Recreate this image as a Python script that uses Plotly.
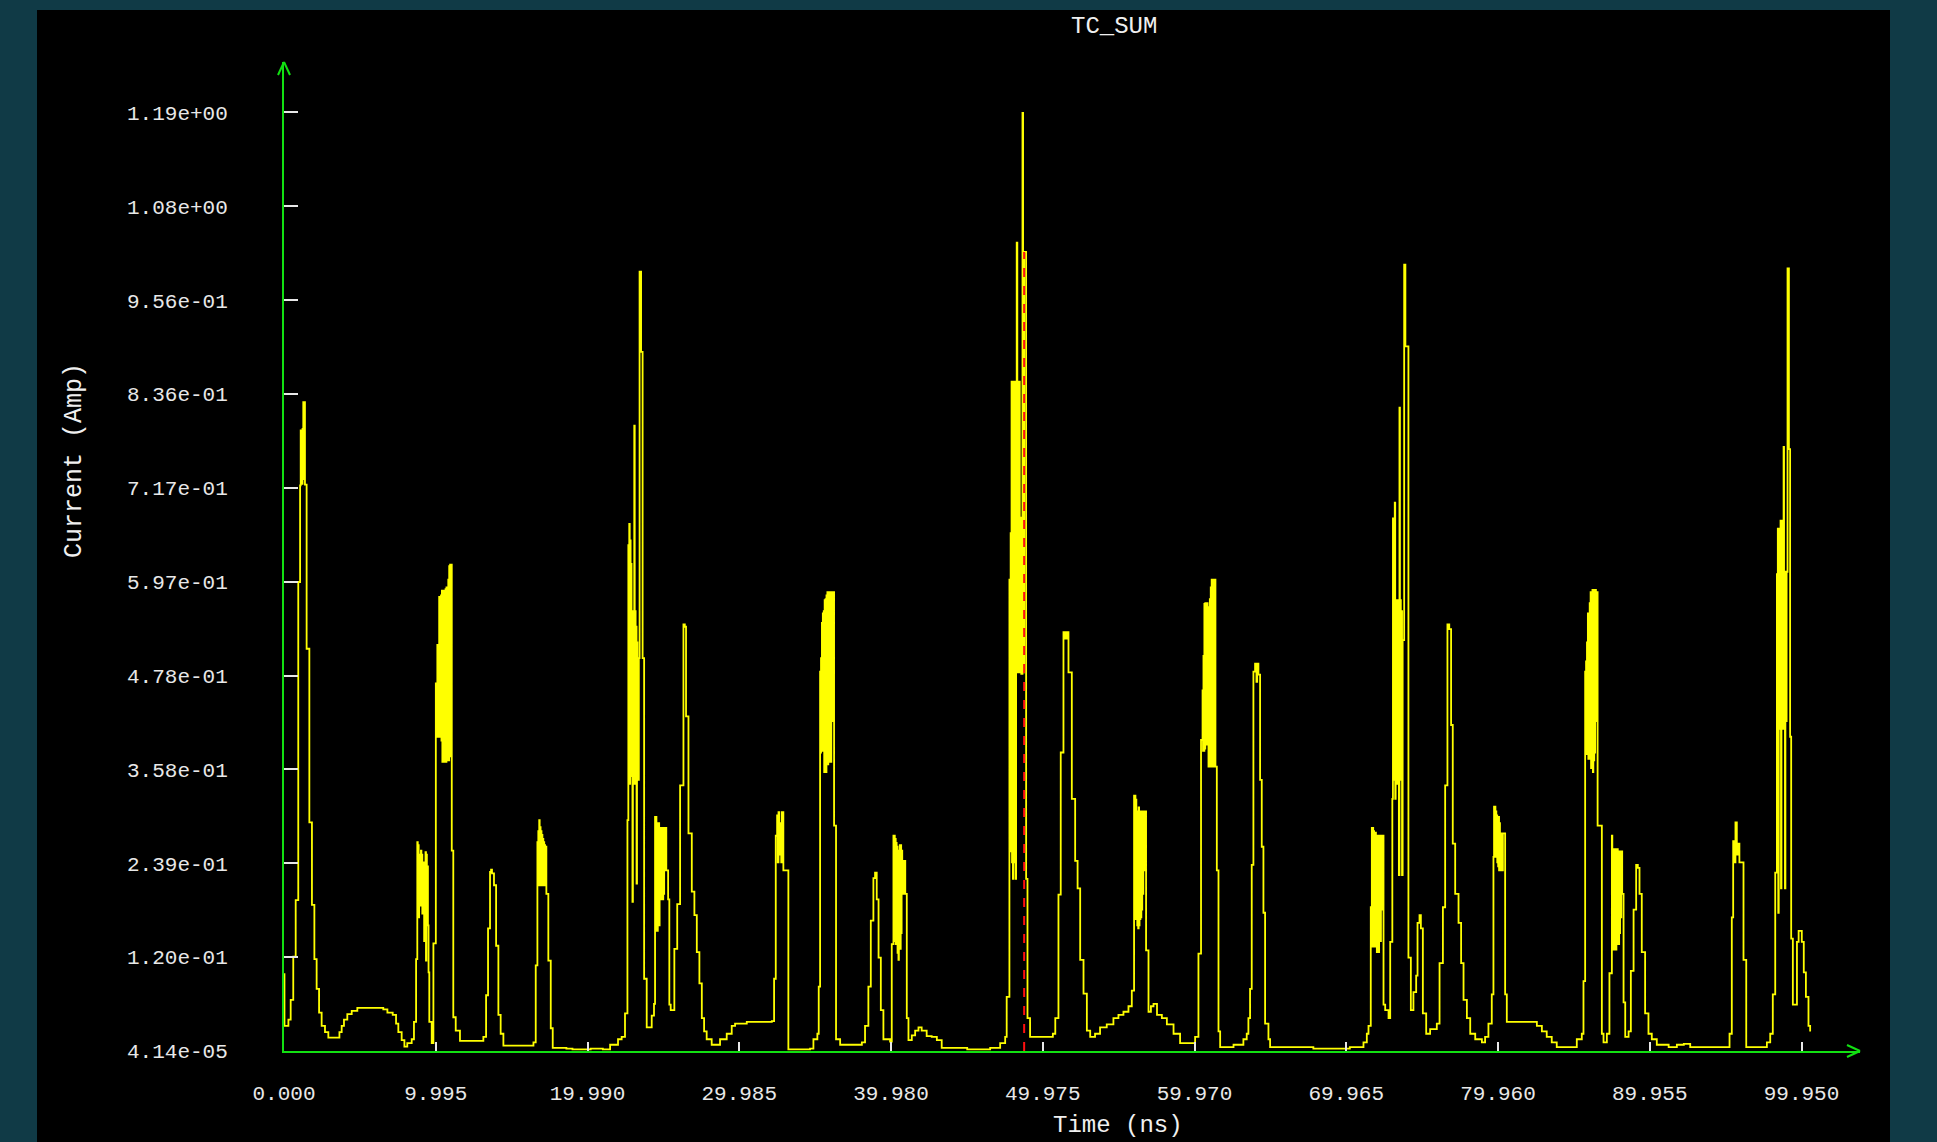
import plotly.graph_objects as go

# ---------------- data ----------------
chart_title = "TC_SUM"
x_title = "Time (ns)"
y_title = "Current (Amp)"

x_tick_vals = [0.0, 9.995, 19.990, 29.985, 39.980, 49.975, 59.970, 69.965, 79.960, 89.955, 99.950]
x_tick_text = ["0.000", "9.995", "19.990", "29.985", "39.980", "49.975", "59.970", "69.965", "79.960", "89.955", "99.950"]
y_tick_vals = [4.14e-05, 0.11950, 0.23896, 0.35842, 0.47788, 0.59734, 0.71680, 0.83626, 0.95572, 1.07518, 1.19464]
y_tick_text = ["4.14e-05", "1.20e-01", "2.39e-01", "3.58e-01", "4.78e-01", "5.97e-01", "7.17e-01", "8.36e-01", "9.56e-01", "1.08e+00", "1.19e+00"]

# cursor (red dashed marker)
cursor_t = 48.75
cursor_i = 1.017

# waveform samples (time ns, current A), step-held
seg_00_20 = [
    (0.00, 0.098), (0.03, 0.032), (0.29, 0.040), (0.44, 0.065), (0.61, 0.120), (0.77, 0.192), (0.94, 0.597),
    (1.06, 0.720), (1.10, 0.790), (1.13, 0.725), (1.16, 0.785), (1.19, 0.722), (1.22, 0.792), (1.25, 0.728),
    (1.27, 0.826), (1.38, 0.721), (1.49, 0.512), (1.67, 0.291), (1.84, 0.186), (2.00, 0.117), (2.15, 0.079),
    (2.31, 0.049), (2.48, 0.032), (2.70, 0.024), (2.92, 0.017), (3.65, 0.024), (3.80, 0.032), (3.95, 0.040),
    (4.17, 0.047), (4.46, 0.051), (4.83, 0.055), (6.54, 0.053), (6.81, 0.049), (7.16, 0.046), (7.38, 0.035),
    (7.53, 0.024), (7.75, 0.014), (7.93, 0.0055), (8.12, 0.010), (8.41, 0.015), (8.56, 0.037), (8.70, 0.117),
    (8.78, 0.266), (8.81, 0.180), (8.84, 0.262), (8.87, 0.170), (8.90, 0.250), (8.93, 0.200), (8.96, 0.245),
    (8.99, 0.185), (9.02, 0.255), (9.05, 0.190), (9.08, 0.250), (9.11, 0.175), (9.14, 0.240), (9.17, 0.180),
    (9.20, 0.230), (9.23, 0.140), (9.26, 0.240), (9.29, 0.180), (9.32, 0.253), (9.35, 0.115), (9.38, 0.250),
    (9.41, 0.170), (9.44, 0.235), (9.48, 0.160), (9.52, 0.100), (9.57, 0.037), (9.73, 0.010), (9.84, 0.137),
    (10.00, 0.468), (10.04, 0.468), (10.07, 0.400), (10.10, 0.517), (10.13, 0.400), (10.16, 0.517), (10.19, 0.405),
    (10.22, 0.578), (10.25, 0.400), (10.28, 0.578), (10.31, 0.402), (10.34, 0.580), (10.37, 0.395), (10.40, 0.586),
    (10.43, 0.368), (10.46, 0.586), (10.49, 0.370), (10.52, 0.584), (10.55, 0.368), (10.58, 0.586), (10.61, 0.372),
    (10.64, 0.588), (10.67, 0.368), (10.70, 0.590), (10.73, 0.370), (10.76, 0.590), (10.79, 0.372), (10.82, 0.600),
    (10.85, 0.370), (10.88, 0.617), (10.91, 0.375), (10.94, 0.619), (10.97, 0.380), (11.00, 0.619), (11.05, 0.255),
    (11.15, 0.043), (11.31, 0.026), (11.59, 0.013), (12.91, 0.013), (13.13, 0.018), (13.31, 0.071), (13.44, 0.156),
    (13.57, 0.228), (13.64, 0.231), (13.70, 0.226), (13.83, 0.211), (13.97, 0.134), (14.12, 0.046), (14.27, 0.022),
    (14.45, 0.007), (16.43, 0.011), (16.58, 0.109), (16.69, 0.266), (16.72, 0.215), (16.75, 0.280), (16.78, 0.211),
    (16.81, 0.294), (16.84, 0.220), (16.87, 0.285), (16.90, 0.211), (16.93, 0.280), (16.96, 0.215), (16.99, 0.275),
    (17.02, 0.211), (17.05, 0.270), (17.08, 0.215), (17.11, 0.266), (17.14, 0.211), (17.17, 0.262), (17.20, 0.218),
    (17.24, 0.260), (17.28, 0.200), (17.41, 0.115), (17.57, 0.029), (17.70, 0.004), (18.60, 0.003), (19.00, 0.002),
]

seg_20_40 = [
    (20.20, 0.003), (21.00, 0.002), (21.48, 0.008), (22.00, 0.015), (22.24, 0.018), (22.46, 0.048), (22.62, 0.294),
    (22.68, 0.644), (22.71, 0.340), (22.74, 0.671), (22.77, 0.340), (22.80, 0.650), (22.83, 0.350), (22.86, 0.620),
    (22.89, 0.530), (22.92, 0.560), (22.95, 0.190), (22.98, 0.540), (23.01, 0.340), (23.04, 0.560), (23.07, 0.796),
    (23.10, 0.340), (23.13, 0.560), (23.16, 0.350), (23.19, 0.540), (23.22, 0.213), (23.25, 0.520), (23.28, 0.345),
    (23.31, 0.500), (23.34, 0.345), (23.37, 0.500), (23.42, 0.992), (23.52, 0.890), (23.62, 0.500), (23.72, 0.092),
    (23.89, 0.030), (24.22, 0.045), (24.37, 0.060), (24.44, 0.298), (24.47, 0.153), (24.50, 0.298), (24.53, 0.190),
    (24.56, 0.290), (24.59, 0.153), (24.62, 0.285), (24.65, 0.200), (24.68, 0.290), (24.71, 0.160), (24.74, 0.284),
    (24.77, 0.195), (24.80, 0.284), (24.83, 0.193), (24.86, 0.280), (24.89, 0.200), (24.92, 0.284), (24.95, 0.193),
    (24.98, 0.280), (25.01, 0.200), (25.04, 0.284), (25.08, 0.230), (25.12, 0.284), (25.18, 0.230), (25.30, 0.193),
    (25.38, 0.059), (25.47, 0.052), (25.71, 0.130), (25.90, 0.187), (26.09, 0.338), (26.31, 0.543), (26.40, 0.540),
    (26.48, 0.426), (26.64, 0.277), (26.86, 0.203), (27.03, 0.173), (27.19, 0.126), (27.36, 0.086), (27.52, 0.042),
    (27.67, 0.025), (27.84, 0.015), (28.17, 0.008), (28.72, 0.015), (29.16, 0.022), (29.49, 0.032), (29.71, 0.035),
    (30.48, 0.037), (32.13, 0.038), (32.28, 0.092), (32.39, 0.274), (32.48, 0.300), (32.52, 0.240), (32.57, 0.304),
    (32.62, 0.250), (32.70, 0.290), (32.75, 0.240), (32.79, 0.304), (32.89, 0.230), (33.10, 0.230), (33.22, 0.002),
    (34.65, 0.003), (34.87, 0.015), (35.13, 0.022), (35.22, 0.082), (35.31, 0.483), (35.34, 0.380), (35.37, 0.500),
    (35.40, 0.382), (35.43, 0.545), (35.46, 0.385), (35.49, 0.557), (35.52, 0.382), (35.55, 0.560), (35.58, 0.355),
    (35.61, 0.574), (35.64, 0.360), (35.67, 0.575), (35.70, 0.355), (35.73, 0.580), (35.76, 0.368), (35.79, 0.584),
    (35.82, 0.365), (35.85, 0.584), (35.88, 0.368), (35.91, 0.584), (35.94, 0.370), (35.97, 0.584), (36.00, 0.368),
    (36.05, 0.584), (36.10, 0.420), (36.15, 0.584), (36.23, 0.287), (36.36, 0.015), (36.63, 0.008), (38.06, 0.011),
    (38.27, 0.032), (38.49, 0.082), (38.65, 0.166), (38.82, 0.220), (38.93, 0.227), (39.04, 0.193), (39.16, 0.119),
    (39.31, 0.052), (39.48, 0.015), (39.92, 0.012),
]

seg_40_60 = [
    (40.03, 0.136), (40.14, 0.274), (40.17, 0.140), (40.20, 0.274), (40.23, 0.150), (40.26, 0.270), (40.29, 0.136),
    (40.32, 0.265), (40.35, 0.150), (40.38, 0.260), (40.41, 0.125), (40.44, 0.250), (40.47, 0.116), (40.50, 0.255),
    (40.53, 0.140), (40.56, 0.262), (40.59, 0.130), (40.62, 0.262), (40.65, 0.150), (40.68, 0.255), (40.72, 0.200),
    (40.80, 0.242), (40.92, 0.200), (41.02, 0.042), (41.13, 0.014), (41.35, 0.020), (41.57, 0.026), (41.79, 0.030),
    (42.00, 0.026), (42.33, 0.019), (42.66, 0.018), (43.00, 0.014), (43.32, 0.004), (45.00, 0.002), (46.51, 0.004),
    (47.17, 0.010), (47.50, 0.018), (47.60, 0.069), (47.78, 0.600), (47.82, 0.254), (47.86, 0.659), (47.89, 0.254),
    (47.92, 0.852), (47.95, 0.240), (47.98, 0.852), (48.01, 0.219), (48.04, 0.852), (48.07, 0.240), (48.10, 0.852),
    (48.13, 0.300), (48.16, 0.852), (48.19, 0.219), (48.22, 0.852), (48.26, 1.029), (48.30, 0.482), (48.34, 0.852),
    (48.38, 0.679), (48.42, 0.852), (48.46, 0.482), (48.50, 0.679), (48.56, 0.480), (48.64, 1.194), (48.68, 0.482),
    (48.75, 1.017), (48.88, 0.219), (48.97, 0.042), (49.14, 0.018), (50.13, 0.018), (50.64, 0.022), (50.80, 0.042),
    (51.01, 0.199), (51.16, 0.380), (51.34, 0.533), (51.45, 0.525), (51.56, 0.533), (51.67, 0.482), (51.89, 0.321),
    (52.11, 0.242), (52.27, 0.207), (52.44, 0.116), (52.66, 0.073), (52.88, 0.026), (53.10, 0.018), (53.42, 0.022),
    (53.75, 0.030), (54.19, 0.034), (54.63, 0.042), (54.96, 0.046), (55.29, 0.050), (55.62, 0.057), (55.84, 0.077),
    (55.99, 0.325), (56.02, 0.168), (56.05, 0.325), (56.08, 0.170), (56.11, 0.320), (56.14, 0.168), (56.17, 0.305),
    (56.20, 0.160), (56.23, 0.305), (56.26, 0.156), (56.29, 0.310), (56.32, 0.160), (56.35, 0.305), (56.38, 0.168),
    (56.41, 0.305), (56.44, 0.170), (56.47, 0.305), (56.50, 0.180), (56.53, 0.305), (56.56, 0.200), (56.60, 0.305),
    (56.65, 0.230), (56.70, 0.305), (56.78, 0.128), (56.94, 0.050), (57.10, 0.057), (57.27, 0.060), (57.50, 0.046),
    (57.82, 0.042), (58.15, 0.034), (58.59, 0.022), (59.02, 0.010), (59.70, 0.010),
]

seg_60_80 = [
    (60.01, 0.018), (60.23, 0.124), (60.40, 0.396), (60.50, 0.459), (60.53, 0.382), (60.56, 0.503), (60.59, 0.382),
    (60.62, 0.569), (60.65, 0.385), (60.68, 0.570), (60.71, 0.399), (60.74, 0.570), (60.77, 0.390), (60.80, 0.570),
    (60.83, 0.399), (60.86, 0.565), (60.89, 0.362), (60.92, 0.560), (60.95, 0.370), (60.98, 0.575), (61.01, 0.362),
    (61.04, 0.590), (61.07, 0.362), (61.10, 0.600), (61.13, 0.365), (61.16, 0.600), (61.19, 0.362), (61.22, 0.600),
    (61.26, 0.362), (61.30, 0.600), (61.35, 0.362), (61.44, 0.230), (61.55, 0.025), (61.66, 0.005), (62.54, 0.008),
    (63.19, 0.015), (63.41, 0.022), (63.52, 0.042), (63.63, 0.079), (63.74, 0.237), (63.85, 0.483), (63.96, 0.493),
    (64.05, 0.470), (64.10, 0.493), (64.18, 0.479), (64.29, 0.345), (64.40, 0.260), (64.51, 0.176), (64.62, 0.035),
    (64.84, 0.015), (64.95, 0.005), (67.80, 0.003), (70.20, 0.005), (71.10, 0.011), (71.32, 0.022), (71.43, 0.032),
    (71.58, 0.183), (71.65, 0.284), (71.68, 0.133), (71.71, 0.284), (71.74, 0.150), (71.77, 0.280), (71.80, 0.133),
    (71.83, 0.274), (71.86, 0.140), (71.89, 0.278), (71.92, 0.133), (71.95, 0.274), (71.98, 0.126), (72.01, 0.274),
    (72.04, 0.140), (72.07, 0.274), (72.10, 0.126), (72.13, 0.270), (72.16, 0.150), (72.19, 0.274), (72.22, 0.140),
    (72.25, 0.274), (72.30, 0.180), (72.35, 0.274), (72.42, 0.059), (72.53, 0.052), (72.75, 0.042), (72.86, 0.139),
    (73.00, 0.321), (73.04, 0.678), (73.07, 0.345), (73.10, 0.678), (73.13, 0.345), (73.16, 0.698), (73.19, 0.321),
    (73.22, 0.574), (73.25, 0.345), (73.28, 0.574), (73.31, 0.340), (73.34, 0.574), (73.37, 0.345), (73.40, 0.574),
    (73.43, 0.224), (73.47, 0.819), (73.50, 0.345), (73.53, 0.574), (73.56, 0.345), (73.60, 0.560), (73.64, 0.224),
    (73.68, 0.523), (73.78, 1.001), (73.86, 0.897), (73.95, 0.897), (74.06, 0.119), (74.22, 0.052), (74.39, 0.075),
    (74.57, 0.096), (74.66, 0.163), (74.79, 0.173), (74.88, 0.156), (75.01, 0.048), (75.23, 0.022), (75.49, 0.028),
    (75.93, 0.035), (76.11, 0.112), (76.33, 0.183), (76.48, 0.338), (76.63, 0.543), (76.75, 0.537), (76.87, 0.415),
    (76.98, 0.264), (77.14, 0.200), (77.36, 0.163), (77.53, 0.112), (77.69, 0.065), (77.91, 0.042), (78.13, 0.022),
    (78.46, 0.015), (78.90, 0.011), (79.11, 0.018), (79.33, 0.035), (79.55, 0.072), (79.66, 0.247), (79.70, 0.311),
    (79.73, 0.247), (79.76, 0.311), (79.79, 0.250), (79.82, 0.305), (79.85, 0.247), (79.88, 0.300), (79.91, 0.240),
    (79.94, 0.298), (79.97, 0.235),
]

seg_80_100 = [
    (80.00, 0.298), (80.03, 0.230), (80.06, 0.290), (80.09, 0.230), (80.12, 0.277), (80.15, 0.235), (80.18, 0.277),
    (80.22, 0.230), (80.28, 0.277), (80.43, 0.072), (80.54, 0.037), (82.30, 0.037), (82.52, 0.032), (82.85, 0.025),
    (83.17, 0.018), (83.50, 0.011), (83.83, 0.005), (84.93, 0.005), (85.15, 0.015), (85.48, 0.022), (85.59, 0.089),
    (85.70, 0.483), (85.73, 0.378), (85.76, 0.496), (85.79, 0.378), (85.82, 0.520), (85.85, 0.380), (85.88, 0.557),
    (85.91, 0.372), (85.94, 0.557), (85.97, 0.378), (86.00, 0.570), (86.03, 0.372), (86.06, 0.584), (86.09, 0.360),
    (86.12, 0.584), (86.15, 0.360), (86.18, 0.587), (86.21, 0.355), (86.24, 0.587), (86.27, 0.370), (86.30, 0.587),
    (86.33, 0.380), (86.36, 0.587), (86.41, 0.420), (86.46, 0.584), (86.52, 0.287), (86.80, 0.022), (86.91, 0.011),
    (87.13, 0.022), (87.30, 0.099), (87.46, 0.274), (87.49, 0.129), (87.52, 0.257), (87.55, 0.140), (87.58, 0.257),
    (87.61, 0.129), (87.64, 0.257), (87.67, 0.136), (87.70, 0.257), (87.73, 0.129), (87.76, 0.250), (87.79, 0.136),
    (87.82, 0.257), (87.85, 0.140), (87.88, 0.254), (87.91, 0.136), (87.94, 0.254), (87.97, 0.150), (88.00, 0.254),
    (88.04, 0.170), (88.08, 0.254), (88.14, 0.200), (88.23, 0.062), (88.34, 0.018), (88.56, 0.025), (88.71, 0.102),
    (88.89, 0.180), (89.06, 0.237), (89.17, 0.233), (89.28, 0.200), (89.43, 0.126), (89.65, 0.048), (89.87, 0.022),
    (90.09, 0.015), (90.42, 0.008), (91.20, 0.005), (91.74, 0.008), (92.20, 0.009), (92.62, 0.005), (95.03, 0.005),
    (95.21, 0.022), (95.36, 0.170), (95.45, 0.267), (95.52, 0.240), (95.60, 0.291), (95.69, 0.250), (95.78, 0.264),
    (95.86, 0.240), (96.02, 0.240), (96.13, 0.116), (96.31, 0.005), (97.67, 0.011), (97.89, 0.022), (98.06, 0.072),
    (98.22, 0.227), (98.33, 0.607), (98.36, 0.410), (98.39, 0.665), (98.42, 0.176), (98.45, 0.610), (98.48, 0.410),
    (98.51, 0.665), (98.54, 0.420), (98.57, 0.675), (98.60, 0.207), (98.63, 0.610), (98.66, 0.410), (98.69, 0.675),
    (98.72, 0.420), (98.77, 0.769), (98.80, 0.410), (98.83, 0.610), (98.86, 0.207), (98.89, 0.610), (98.93, 0.420),
    (98.97, 0.610), (99.03, 0.996), (99.12, 0.766), (99.20, 0.400), (99.27, 0.143), (99.38, 0.059), (99.52, 0.059),
    (99.65, 0.139), (99.76, 0.153), (99.86, 0.153), (99.97, 0.139), (100.10, 0.100), (100.24, 0.069), (100.41, 0.032),
    (100.52, 0.025),
]

# ---------------- figure ----------------
samples = seg_00_20 + seg_20_40 + seg_40_60 + seg_60_80 + seg_80_100
time_ns = [p[0] for p in samples]
current_amp = [p[1] for p in samples]

W, H = 1937, 1142
L, R, T, B = 284, 77, 62, 91
plot_w = W - L - R
plot_h = H - T - B
px_per_ns = (1801.5 - 284) / 99.95
px_per_amp = (1051 - 112.4) / 1.19464
x_max = plot_w / px_per_ns
y_min = 4.14e-05
y_max = y_min + plot_h / px_per_amp

GREEN = "#12e012"
TICKC = "#e8e8e8"
MONO = "Liberation Mono, DejaVu Sans Mono, monospace"

fig = go.Figure()
fig.add_trace(go.Scatter(
    x=time_ns, y=current_amp, mode="lines",
    line=dict(color="#ffff00", width=1.8, shape="hv"),
    hoverinfo="skip",
))


def px_x(px):
    return (px - L) / plot_w


def px_y(py):
    return (H - B - py) / plot_h


def arrow_line(ax, ay, dx, dy):
    return dict(type="line", xref="paper", yref="paper", xsizemode="pixel", ysizemode="pixel",
                xanchor=ax, yanchor=ay, x0=0, y0=0, x1=dx, y1=dy, line=dict(color=GREEN, width=2),
                layer="above")


shapes = [
    # black panel behind the chart
    dict(type="rect", xref="paper", yref="paper", x0=px_x(37), x1=px_x(1890), y0=px_y(1150), y1=px_y(10),
         fillcolor="black", line=dict(width=0), layer="below"),
    # cursor marker
    dict(type="line", xref="x", yref="y", x0=cursor_t, x1=cursor_t, y0=y_min, y1=cursor_i,
         line=dict(color="#ff1010", width=2, dash="dash"), layer="above"),
    # arrowheads at the axis ends
    arrow_line(0, 1, -6, -13),
    arrow_line(0, 1, 6, -13),
    arrow_line(1, 0, -13, 6),
    arrow_line(1, 0, -13, -6),
]

annotations = [
    dict(text=chart_title, xref="paper", yref="paper", x=px_x(1114), y=px_y(27), showarrow=False,
         xanchor="center", yanchor="middle", font=dict(family=MONO, size=24, color="#f0f0f0")),
    dict(text=y_title, xref="paper", yref="paper", x=px_x(74), y=px_y(460), showarrow=False, textangle=-90,
         xanchor="center", yanchor="middle", font=dict(family=MONO, size=25, color="#f0f0f0")),
    dict(text=x_title, xref="paper", yref="paper", x=px_x(1118), y=px_y(1125), showarrow=False,
         xanchor="center", yanchor="middle", font=dict(family=MONO, size=24, color="#f0f0f0")),
]

fig.update_layout(
    width=W, height=H,
    margin=dict(l=L, r=R, t=T, b=B, pad=0),
    paper_bgcolor="#103a46",
    plot_bgcolor="black",
    showlegend=False,
    shapes=shapes,
    annotations=annotations,
    xaxis=dict(range=[0, x_max], showgrid=False, zeroline=False, showline=True, linecolor=GREEN, linewidth=2,
               ticks="inside", ticklen=9, tickwidth=2, tickcolor=TICKC,
               tickmode="array", tickvals=x_tick_vals, ticktext=x_tick_text,
               tickfont=dict(family=MONO, size=21, color=TICKC), ticklabelstandoff=22, fixedrange=True),
    yaxis=dict(range=[y_min, y_max], showgrid=False, zeroline=False, showline=True, linecolor=GREEN, linewidth=2,
               ticks="inside", ticklen=14, tickwidth=2, tickcolor=TICKC,
               tickmode="array", tickvals=y_tick_vals, ticktext=y_tick_text,
               tickfont=dict(family=MONO, size=21, color=TICKC), ticklabelstandoff=50, fixedrange=True),
)

fig.write_html("out.html", config={"displayModeBar": False})
